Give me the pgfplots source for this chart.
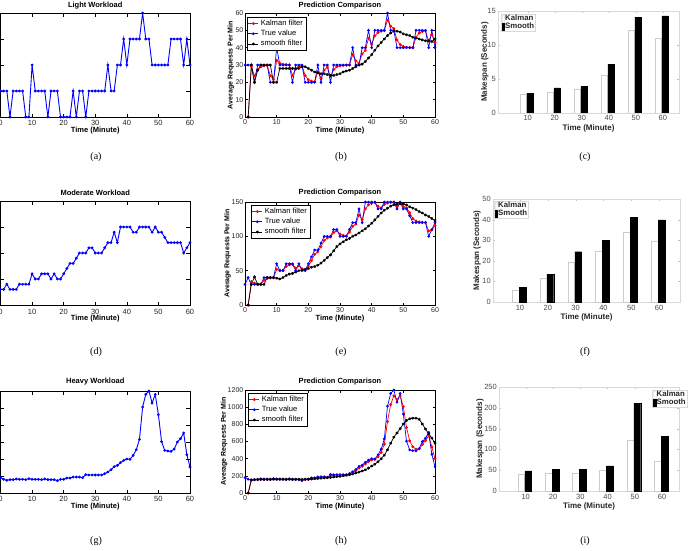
\documentclass[border=0pt]{standalone}
\usepackage{fontspec}
\setmainfont{Liberation Sans}
\newfontfamily\capfont{Liberation Serif}
\usepackage{pgfplots}
\usepackage{pgfplotstable}
\pgfplotsset{compat=1.18}

\pgfplotstableread{
t true kal smo
0 30 nan nan
1 30 0 0
2 30 29 30
3 20 23.6 20
4 30 27.4 27
5 30 29.0 30
6 30 29.6 30
7 30 29.8 30
8 20 23.9 30
9 20 21.6 20
10 40 32.6 20
11 30 31.0 28
12 30 30.4 28
13 30 30.2 28
14 30 30.1 28
15 20 24.0 28
16 30 27.6 28
17 30 29.0 28
18 30 29.6 29
19 20 23.9 29
20 20 21.5 28
21 20 20.6 27
22 20 20.3 26
23 30 26.1 25.5
24 20 22.4 25
25 30 27.0 25
26 30 28.8 24.5
27 20 23.5 24
28 30 27.4 24
29 30 29.0 24.5
30 30 29.6 25
31 30 29.8 26
32 30 29.9 26.5
33 30 30.0 27
34 40 36.0 28
35 30 32.4 29
36 30 31.0 30
37 40 36.4 30.5
38 40 38.5 32
39 50 45.4 34
40 40 42.2 36
41 50 46.9 38.5
42 50 48.7 41
43 50 49.5 43
44 50 49.8 45
45 60 55.9 47
46 50 52.4 48.5
47 50 51.0 49.5
48 40 44.4 49.5
49 40 41.8 49
50 40 40.7 48
51 40 40.3 47.5
52 40 40.1 47
53 40 40.0 46
54 50 46.0 45.5
55 50 48.4 45
56 50 49.4 44.5
57 50 49.7 44
58 40 43.9 44
59 50 47.6 43.5
60 40 43.0 45
}\lighttab

\pgfplotstableread{
t true wl kal smo
0 30 30 nan nan
1 40 30 0 0
2 30 40 34 30
3 30 30 31.6 41
4 30 30 30.6 30
5 30 30 30.3 30
6 40 40 36.1 30
7 40 40 38.4 40
8 40 40 39.4 40
9 40 40 39.8 40
10 60 60 51.9 39
11 50 50 50.8 38
12 50 50 50.3 40
13 60 60 56.1 43
14 60 60 58.4 45
15 60 60 59.4 46
16 50 50 53.8 48
17 60 60 57.5 50
18 50 50 53.0 51
19 50 50 51.2 52
20 60 60 56.5 53
21 70 70 64.6 55
22 80 80 73.8 56
23 80 80 77.5 58
24 90 90 85.0 61
25 100 100 94.0 65
26 100 100 97.6 69
27 100 100 99.0 73
28 110 110 105.6 79
29 110 110 108.2 85
30 100 100 103.3 89
31 100 100 101.3 92
32 100 100 100.5 95
33 110 110 106.2 97
34 120 120 114.5 100
35 120 120 117.8 102
36 140 140 131.1 105
37 120 120 124.4 108
38 150 150 139.8 111
39 150 150 145.9 115
40 150 150 148.4 119
41 150 150 149.3 124
42 140 140 143.7 129
43 140 140 141.5 134
44 150 150 146.6 138
45 150 150 148.6 141
46 150 150 149.5 144
47 150 150 149.8 146
48 140 140 143.9 147
49 150 150 147.6 147.5
50 140 140 143.0 147
51 140 140 141.2 145.5
52 130 130 134.5 143
53 120 120 125.8 141
54 120 120 122.3 139
55 120 120 120.9 136
56 120 120 120.4 134
57 120 120 120.1 131
58 100 100 108.0 129
59 110 110 109.2 126
60 120 120 115.7 123
}\modtab

\pgfplotstableread{
t true kal smo
0 180 nan nan
1 161 0 0
2 149 155 150
3 157 156 155
4 157 157 157
5 165 162 158
6 161 161 158
7 161 161 159
8 157 159 159
9 169 165 160
10 161 163 160
11 161 162 160
12 161 161 160
13 157 159 160
14 165 163 160
15 157 159 160
16 157 158 160
17 157 157 160
18 145 150 159
19 161 157 160
20 161 159 162
21 176 169 164
22 176 173 166
23 188 182 169
24 188 186 172
25 188 187 175
26 180 183 178
27 216 203 182
28 212 208 186
29 212 211 190
30 212 212 194
31 212 212 200
32 212 212 206
33 227 221 213
34 247 237 222
35 274 259 232
36 310 290 243
37 325 311 256
38 357 339 270
39 384 366 290
40 400 386 315
41 396 392 335
42 443 423 365
43 510 475 400
44 631 569 440
45 1011 834 503
46 1160 1030 580
47 1200 1132 650
48 1058 1088 700
49 1160 1131 750
50 921 1005 805
51 604 764 845
52 502 607 865
53 494 539 872
54 490 510 872
55 517 514 858
56 600 566 805
57 639 610 745
58 706 667 690
59 451 537 640
60 306 399 580
}\heavytab

\pgfplotsset{
  every axis title shift=0pt,
  every axis/.append style={scale only axis, /pgf/number format/assume math mode=true,
    /pgf/number format/set thousands separator={}},
  mpl/.style={xmin=0, xmax=60, xtick={0,10,...,60}, tick align=inside, major tick length=3.5pt,
    axis line style={black, line width=0.6pt}, tick style={black, line width=0.5pt},
    ticklabel style={font=\fontsize{7.5}{8}\selectfont, text=black!85},
    xticklabel style={anchor=center}, yticklabels={},
    title style={font=\bfseries\fontsize{7.5}{9}\selectfont, anchor=center},
    xlabel={Time (Minute)},
    xlabel style={font=\bfseries\fontsize{7.5}{9}\selectfont, anchor=center}},
  mat/.style={xmin=0, xmax=60, xtick={0,10,...,60}, tick align=inside, major tick length=2.5pt,
    axis line style={black, line width=0.6pt}, tick style={black, line width=0.5pt},
    ticklabel style={font=\fontsize{7}{8}\selectfont, text=black!85},
    xticklabel style={anchor=center},
    yticklabel style={anchor=east, inner sep=0pt, xshift=-1.5pt},
    title={Prediction Comparison},
    title style={font=\bfseries\fontsize{7.5}{9}\selectfont, anchor=center},
    xlabel={Time (Minute)},
    xlabel style={font=\bfseries\fontsize{7.5}{9}\selectfont, anchor=center},
    ylabel={Average Requests Per Min},
    ylabel style={font=\bfseries\fontsize{7}{8}\selectfont, anchor=center},
    legend style={font=\fontsize{7.6}{8.5}\selectfont, draw=black, line width=0.5pt, fill=white,
      inner sep=0.8pt, row sep=-0.8pt, at={(0,1)}, anchor=north west},
    legend cell align=left,
    legend image code/.code={\draw[mark repeat=2,mark phase=2,#1] plot coordinates {(0pt,0pt) (5pt,0pt) (10pt,0pt)};}},
  bar/.style={xtick={1,...,6}, xticklabels={10,20,30,40,50,60}, ymin=0, tick align=inside,
    major tick length=2pt, axis line style={black!15, line width=0.5pt}, tick style={black!25},
    ticklabel style={font=\fontsize{7.5}{8}\selectfont, text=black!70},
    xticklabel style={anchor=center},
    yticklabel style={anchor=east, inner sep=0pt, xshift=-2pt},
    xlabel={Time (Minute)}, ylabel={Makespan (Seconds)},
    label style={font=\bfseries\fontsize{8}{9}\selectfont, text=black!85, anchor=center},
    legend style={font=\bfseries\fontsize{7.8}{9}\selectfont, text=black!85, draw=black!15,
      fill=white, inner sep=0.5pt, row sep=-1pt, nodes={inner sep=0.6pt}},
    legend cell align=left},
  kal/.style={red, line width=0.7pt, mark=*, mark size=1.1pt},
  tru/.style={blue, line width=0.7pt, mark=*, mark size=1pt},
  smo/.style={black, line width=0.7pt, mark=asterisk, mark size=1.4pt},
  mplline/.style={color={rgb,255:red,0;green,0;blue,255}, line width=0.9pt, mark=*, mark size=0.9pt},
  kbar/.style={ybar, bar width=6.8pt, bar shift=-4.5pt, fill=white, draw=black!20,
    legend image code/.code={\draw[fill=white,draw=black!8] (0pt,-3.5pt) rectangle (2.5pt,3.5pt);}},
  sbar/.style={ybar, bar width=6.8pt, bar shift=2.5pt, fill=black, draw=black,
    legend image code/.code={\fill[black] (0pt,-3.5pt) rectangle (2.5pt,3.5pt);}},
}

\begin{document}
\begin{tikzpicture}
% ---------- Row 1 ----------
\begin{axis}[mpl, at={(0.5pt,433pt)}, width=189.5pt, height=104pt,
  ymin=20, ymax=60, ytick={20,30,...,60},
  title={Light Workload}, title style={at={(axis description cs:0.5,1)}, yshift=7.7pt},
  xticklabel style={yshift=-5.5pt},
  xlabel style={at={(axis description cs:0.5,0)}, yshift=-13.5pt}]
\addplot[mplline] table[x=t, y=true] {\lighttab};
\end{axis}

\begin{axis}[mat, at={(245pt,433pt)}, width=190pt, height=104pt,
  ymin=0, ymax=60, ytick={0,10,...,60},
  title style={at={(axis description cs:0.5,1)}, yshift=7.7pt},
  xticklabel style={yshift=-5.5pt},
  xlabel style={at={(axis description cs:0.5,0)}, yshift=-13.5pt},
  ylabel style={at={(axis description cs:-0.074,0.5)}},
  legend style={xshift=2pt, yshift=-4pt}]
\addplot[kal] table[x=t, y=kal] {\lighttab};
\addplot[tru] table[x=t, y=true] {\lighttab};
\addplot[smo] table[x=t, y=smo] {\lighttab};
\legend{Kalman filter, True value, smooth filter}
\end{axis}

\begin{axis}[bar, at={(498pt,437pt)}, width=181pt, height=102pt,
  xmin=-0.1, xmax=6.6, ymax=15, ytick={0,5,10,15},
  xticklabel style={yshift=-5pt},
  xlabel style={at={(axis description cs:0.5,0)}, yshift=-15pt},
  ylabel style={at={(axis description cs:-0.0735,0.5)}},
  legend style={at={(0,1)}, anchor=north west, xshift=3pt, yshift=-3pt}]
\addplot[kbar] coordinates {(1,2.7) (2,3.1) (3,3.5) (4,5.6) (5,12.2) (6,11.0)};
\addplot[sbar] coordinates {(1,2.9) (2,3.7) (3,3.9) (4,7.2) (5,14.1) (6,14.3)};
\legend{Kalman, Smooth}
\end{axis}

% ---------- Row 2 ----------
\begin{axis}[mpl, at={(0.5pt,245pt)}, width=189.5pt, height=104pt,
  ymin=0, ymax=200, ytick={0,50,...,200},
  title={Moderate Workload}, title style={at={(axis description cs:0.5,1)}, yshift=8pt},
  xticklabel style={yshift=-6.5pt},
  xlabel style={at={(axis description cs:0.5,0)}, yshift=-14pt}]
\addplot[mplline] table[x=t, y=wl] {\modtab};
\end{axis}

\begin{axis}[mat, at={(245pt,245pt)}, width=190pt, height=103pt,
  ymin=0, ymax=150, ytick={0,50,100,150},
  title style={at={(axis description cs:0.5,1)}, yshift=9pt},
  xticklabel style={yshift=-5pt},
  xlabel style={at={(axis description cs:0.5,0)}, yshift=-13.5pt},
  ylabel style={at={(axis description cs:-0.092,0.5)}},
  legend style={xshift=6pt, yshift=-3pt}]
\addplot[kal] table[x=t, y=kal] {\modtab};
\addplot[tru] table[x=t, y=true] {\modtab};
\addplot[smo] table[x=t, y=smo] {\modtab};
\legend{Kalman filter, True value, smooth filter}
\end{axis}

\begin{axis}[bar, at={(493pt,248pt)}, width=187pt, height=103pt,
  xmin=0.03, xmax=6.75, ymax=50, ytick={0,10,...,50},
  xticklabel style={yshift=-6pt},
  xlabel style={at={(axis description cs:0.5,0)}, yshift=-15pt},
  ylabel style={at={(axis description cs:-0.0856,0.5)}},
  legend style={at={(0,1)}, anchor=north west, xshift=1pt, yshift=-2pt}]
\addplot[kbar] coordinates {(1,5.7) (2,11.7) (3,19.5) (4,24.9) (5,33.9) (6,29.6)};
\addplot[sbar] coordinates {(1,7.0) (2,13.5) (3,24.4) (4,29.8) (5,41.2) (6,39.9)};
\legend{Kalman, Smooth}
\end{axis}

% ---------- Row 3 ----------
\begin{axis}[mpl, at={(0.5pt,57pt)}, width=189.5pt, height=102pt,
  ymin=0, ymax=1200, ytick={0,200,...,1200},
  title={Heavy Workload}, title style={at={(axis description cs:0.5,1)}, yshift=9pt},
  xticklabel style={yshift=-5.5pt},
  xlabel style={at={(axis description cs:0.5,0)}, yshift=-14pt}]
\addplot[mplline] table[x=t, y=true] {\heavytab};
\end{axis}

\begin{axis}[mat, at={(245pt,57pt)}, width=190pt, height=103pt,
  ymin=0, ymax=1200, ytick={0,200,...,1200},
  title style={at={(axis description cs:0.5,1)}, yshift=8pt},
  xticklabel style={yshift=-5pt},
  xlabel style={at={(axis description cs:0.5,0)}, yshift=-14pt},
  ylabel style={at={(axis description cs:-0.11,0.5)}},
  legend style={xshift=3pt, yshift=-3pt}]
\addplot[kal] table[x=t, y=kal] {\heavytab};
\addplot[tru] table[x=t, y=true] {\heavytab};
\addplot[smo] table[x=t, y=smo] {\heavytab};
\legend{Kalman filter, True value, smooth filter}
\end{axis}

\begin{axis}[bar, at={(499pt,59pt)}, width=180pt, height=104pt,
  xmin=0.02, xmax=6.62, ymax=250, ytick={0,50,...,250},
  xticklabel style={yshift=-6pt},
  xlabel style={at={(axis description cs:0.5,0)}, yshift=-15pt},
  ylabel style={at={(axis description cs:-0.1056,0.5)}},
  legend style={at={(1,1)}, anchor=north east, xshift=8pt, yshift=-3pt}]
\addplot[kbar] coordinates {(1,40) (2,42) (3,44) (4,50) (5,122.6) (6,71.8)};
\addplot[sbar] coordinates {(1,48.4) (2,51.6) (3,52.4) (4,60.5) (5,211) (6,132)};
\legend{Kalman, Smooth}
\end{axis}

% ---------- captions ----------
\begin{scope}[every node/.style={font=\capfont\fontsize{10}{12}\selectfont}]
\node at (96pt,393pt) {(a)};
\node at (341pt,393pt) {(b)};
\node at (585pt,393pt) {(c)};
\node at (96pt,198pt) {(d)};
\node at (341pt,198pt) {(e)};
\node at (585pt,198pt) {(f)};
\node at (96pt,9pt) {(g)};
\node at (341pt,9pt) {(h)};
\node at (585pt,9pt) {(i)};
\end{scope}

\pgfresetboundingbox
\useasboundingbox (0pt,0pt) rectangle (693pt,550pt);
\end{tikzpicture}
\end{document}
